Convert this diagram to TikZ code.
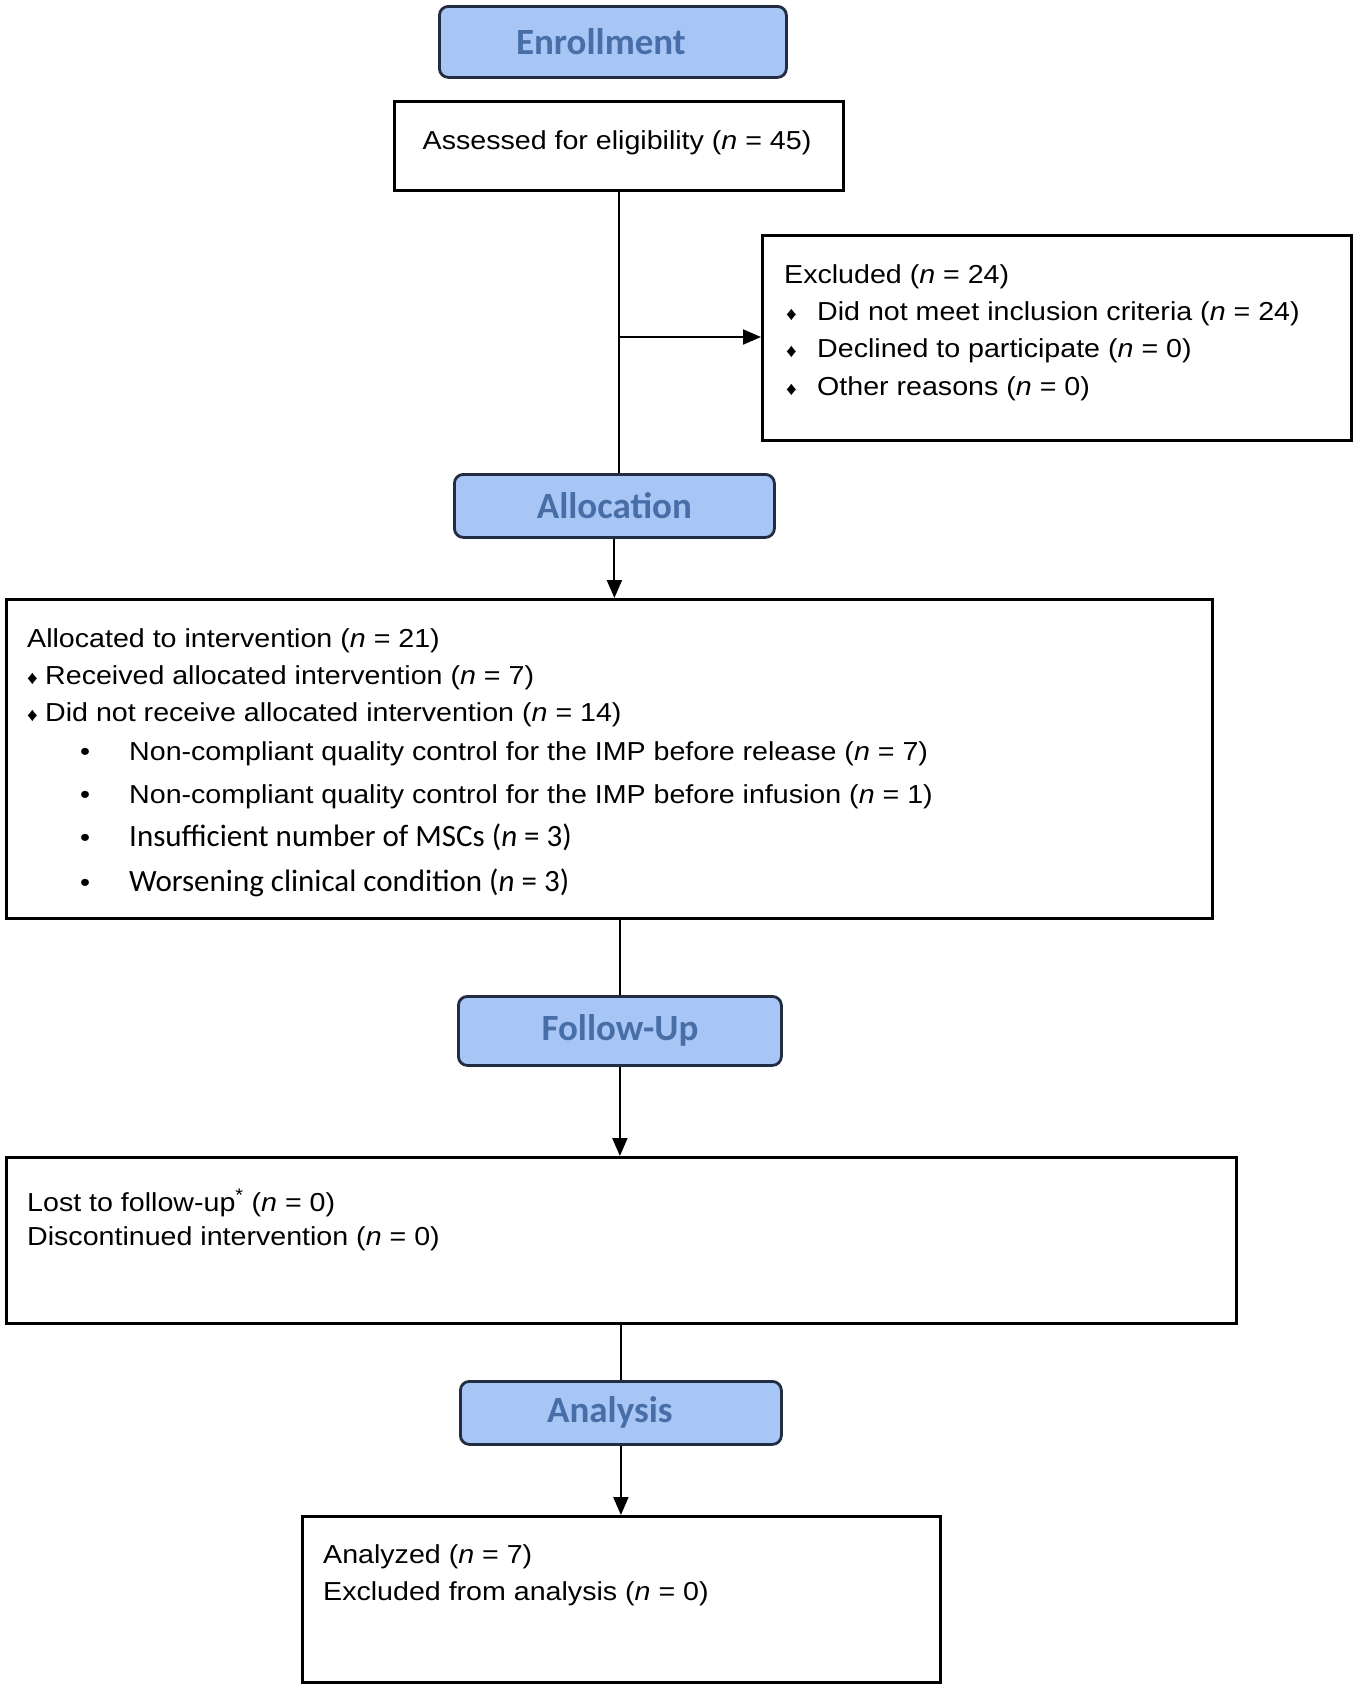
\documentclass[tikz,border=0pt]{standalone}
\usepackage{fontspec}
\setmainfont[FakeStretch=1.1]{Liberation Sans}
\newfontfamily\hdfont{Carlito}
\newfontfamily\calfont{Carlito}
\usetikzlibrary{arrows.meta}
\definecolor{hdfill}{RGB}{168,198,245}
\definecolor{hdtext}{RGB}{72,110,168}
\definecolor{hdline}{RGB}{35,45,65}
\newcommand{\nn}{\textit{n}}
\newcommand{\dia}{{\fontsize{19}{19}\selectfont\char"2666}}
\begin{document}
\begin{tikzpicture}[x=1pt,y=-1pt,
  hdr/.style={draw=hdline, line width=2.8pt, fill=hdfill, rounded corners=9pt, inner sep=0pt, anchor=north west,
    font=\hdfont\bfseries\fontsize{37}{40}\selectfont, text=hdtext},
  bx/.style={draw=black, line width=2.6pt, inner sep=0pt, anchor=north west},
  txt/.style={anchor=base west, inner sep=0pt, font=\fontsize{26}{30}\selectfont},
  ctxt/.style={anchor=base west, inner sep=0pt, font=\calfont\fontsize{31}{34}\selectfont},
  conn/.style={draw=black, line width=2pt},
  arr/.style={conn, -{Triangle[length=18pt,width=15pt]}}]
\useasboundingbox[fill=white] (0,0) rectangle (1355,1687);

% boxes
\node[hdr, minimum width=347pt, minimum height=71pt] (enr) at (438,5) {Enrollment\kern24pt\relax};
\node[bx, minimum width=449pt, minimum height=89pt] (ass) at (393,100) {};
\node[bx, minimum width=589pt, minimum height=205pt] (exc) at (761,234) {};
\node[hdr, minimum width=320pt, minimum height=63pt] (alc) at (453,473) {Allocation};
\node[bx, minimum width=1206pt, minimum height=319pt] (alloc) at (5,598) {};
\node[hdr, minimum width=323pt, minimum height=69pt] (fu) at (457,995) {Follow-Up};
\node[bx, minimum width=1230pt, minimum height=166pt] (lost) at (5,1156) {};
\node[hdr, minimum width=321pt, minimum height=63pt] (an) at (459,1380) {Analysis\kern22pt\relax};
\node[bx, minimum width=638pt, minimum height=166pt] (anz) at (301,1515) {};

% texts
\node[txt, anchor=base] (t-ass) at (617,149) {Assessed for eligibility (\nn{} = 45)};

\node[txt] (t-exc) at (784,283) {Excluded (\nn{} = 24)};
\node[txt] (b-exc1) at (786,320) {\dia};
\node[txt] (t-exc1) at (817,320) {Did not meet inclusion criteria (\nn{} = 24)};
\node[txt] (b-exc2) at (786,357) {\dia};
\node[txt] (t-exc2) at (817,357) {Declined to participate (\nn{} = 0)};
\node[txt] (b-exc3) at (786,395) {\dia};
\node[txt] (t-exc3) at (817,395) {Other reasons (\nn{} = 0)};

\node[txt] (t-al0) at (27,647) {Allocated to intervention (\nn{} = 21)};
\node[txt] (b-al1) at (27,684) {\dia};
\node[txt] (t-al1) at (45,684) {Received allocated intervention (\nn{} = 7)};
\node[txt] (b-al2) at (27,721) {\dia};
\node[txt] (t-al2) at (45,721) {Did not receive allocated intervention (\nn{} = 14)};
\node[txt] (b-al3) at (80,760) {\textbullet};
\node[txt] (t-al3) at (129,760) {Non-compliant quality control for the IMP before release (\nn{} = 7)};
\node[txt] (b-al4) at (80,803) {\textbullet};
\node[txt] (t-al4) at (129,803) {Non-compliant quality control for the IMP before infusion (\nn{} = 1)};
\node[txt] (b-al5) at (80,846) {\textbullet};
\node[ctxt] (t-al5) at (129,846) {Insufficient number of MSCs (\textit{n} = 3)};
\node[txt] (b-al6) at (80,891) {\textbullet};
\node[ctxt] (t-al6) at (129,891) {Worsening clinical condition (\textit{n} = 3)};

\node[txt] (t-lost1) at (27,1211) {Lost to follow-up\textsuperscript{*} (\nn{} = 0)};
\node[txt] (t-lost2) at (27,1245) {Discontinued intervention (\nn{} = 0)};

\node[txt] (t-anz1) at (323,1563) {Analyzed (\nn{} = 7)};
\node[txt] (t-anz2) at (323,1600) {Excluded from analysis (\nn{} = 0)};

% connectors
\coordinate (j) at (619,337);
\draw[conn] (ass.south -| j) -- (alc.north -| j);
\draw[arr] (j) -- (exc.west |- j);
\draw[arr] (alc.south) -- (alc.south |- alloc.north);
\draw[conn] (fu.north |- alloc.south) -- (fu.north);
\draw[arr] (fu.south) -- (fu.south |- lost.north);
\draw[conn] (an.north |- lost.south) -- (an.north);
\draw[arr] (an.south) -- (an.south |- anz.north);
\end{tikzpicture}
\end{document}
